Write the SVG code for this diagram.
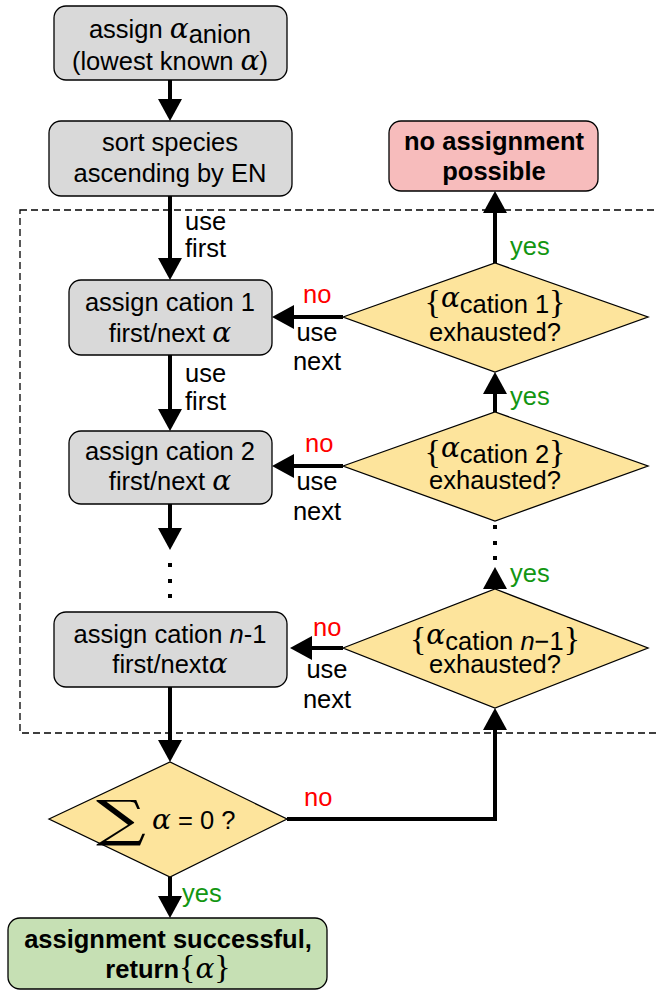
<svg xmlns="http://www.w3.org/2000/svg" width="656" height="991" viewBox="0 0 656 991">
<defs>
<marker id="ah" markerUnits="userSpaceOnUse" markerWidth="24" markerHeight="24" viewBox="0 0 22 24" refX="12" refY="12" orient="auto"><path d="M0,0 L22,12 L0,24 z" fill="#000"/></marker>
</defs>
<style>
text{font-family:"Liberation Sans",Arial,sans-serif;font-size:25.5px;fill:#000}
.c{text-anchor:middle}
.b{font-weight:bold}
.g{fill:#129612}
.r{fill:#ff0000}
.m{font-family:"DejaVu Serif","Liberation Serif",serif;font-style:italic;font-size:28px}
.br{font-family:"Liberation Serif","DejaVu Serif",serif;font-size:34px}
.box{fill:#d9d9d9;stroke:#000;stroke-width:1.3}
.dia{fill:#fde49c;stroke:#000;stroke-width:1.3}
.conn{fill:none;stroke:#000;stroke-width:4;marker-end:url(#ah)}
.dot{fill:#000}
</style>
<rect x="20" y="210" width="645" height="523" fill="none" stroke="#000" stroke-width="1.3" stroke-dasharray="7,4"/>
<g id="connectors">
<line class="conn" x1="170" y1="80" x2="170" y2="111"/>
<line class="conn" x1="170" y1="196" x2="170" y2="270"/>
<line class="conn" x1="170" y1="355" x2="170" y2="421"/>
<line class="conn" x1="170" y1="504" x2="170" y2="540"/>
<line class="conn" x1="170" y1="687" x2="170" y2="752"/>
<line class="conn" x1="170" y1="877" x2="170" y2="908"/>
<line class="conn" x1="495" y1="263" x2="495" y2="201"/>
<line class="conn" x1="495" y1="412" x2="495" y2="382"/>
<line class="conn" x1="495" y1="589" x2="495" y2="577"/>
<line class="conn" x1="343" y1="317" x2="282" y2="317"/>
<line class="conn" x1="343" y1="466" x2="282" y2="466"/>
<line class="conn" x1="343" y1="648" x2="300" y2="648"/>
<polyline class="conn" points="287,819 495,819 495,718"/>
<rect class="dot" x="168" y="563" width="4" height="4"/>
<rect class="dot" x="168" y="579" width="4" height="4"/>
<rect class="dot" x="168" y="594" width="4" height="4"/>
<rect class="dot" x="493" y="525" width="4" height="4"/>
<rect class="dot" x="493" y="541" width="4" height="4"/>
<rect class="dot" x="493" y="556" width="4" height="4"/>
<text x="185" y="230">use</text>
<text x="185" y="257">first</text>
<text x="185" y="382">use</text>
<text x="185" y="410">first</text>
<text class="r" x="303" y="303">no</text>
<text class="c" x="317" y="341">use</text>
<text class="c" x="317" y="370">next</text>
<text class="r" x="305" y="452">no</text>
<text class="c" x="317" y="490">use</text>
<text class="c" x="317" y="520">next</text>
<text class="r" x="313" y="636">no</text>
<text class="c" x="327" y="678">use</text>
<text class="c" x="327" y="708">next</text>
<text class="g" x="510" y="255">yes</text>
<text class="g" x="510" y="405">yes</text>
<text class="g" x="510" y="582">yes</text>
<text class="r" x="304" y="806">no</text>
<text class="g" x="182" y="902">yes</text>
</g>
<g id="anion">
<rect class="box" x="54" y="6" width="233" height="74" rx="12"/>
<text class="c" x="170" y="38">assign <tspan class="m">α</tspan><tspan dy="5">anion</tspan></text>
<text class="c" x="170" y="70">(lowest known <tspan class="m">α</tspan>)</text>
</g>
<g id="sort">
<rect class="box" x="49" y="121" width="243" height="75" rx="12"/>
<text class="c" x="170" y="151">sort species</text>
<text class="c" x="170" y="182">ascending by EN</text>
</g>
<g id="cation1">
<rect class="box" x="69" y="280" width="203" height="75" rx="12"/>
<text class="c" x="170" y="311">assign cation 1</text>
<text class="c" x="170" y="342">first/next <tspan class="m">α</tspan></text>
</g>
<g id="cation2">
<rect class="box" x="69" y="431" width="203" height="73" rx="12"/>
<text class="c" x="170" y="460">assign cation 2</text>
<text class="c" x="170" y="490">first/next <tspan class="m">α</tspan></text>
</g>
<g id="cationn1">
<rect class="box" x="54" y="612" width="233" height="75" rx="12"/>
<text class="c" x="170" y="643">assign cation <tspan font-style="italic">n</tspan>-1</text>
<text class="c" x="170" y="673">first/next<tspan class="m">α</tspan></text>
</g>
<g id="fail">
<rect x="389" y="121" width="209" height="70" rx="12" fill="#f7bcbc" stroke="#000" stroke-width="1.3"/>
<text class="c b" x="494" y="150">no assignment</text>
<text class="c b" x="494" y="180">possible</text>
</g>
<g id="ex1">
<polygon class="dia" points="343,317 495,263 648,317 495,372"/>
<text class="c" x="495" y="313"><tspan class="br">{</tspan><tspan class="m" dy="-6">α</tspan><tspan dy="6">cation 1</tspan><tspan class="br">}</tspan></text>
<text class="c" x="495" y="341">exhausted?</text>
</g>
<g id="ex2">
<polygon class="dia" points="343,466 495,412 648,466 495,521"/>
<text class="c" x="495" y="463"><tspan class="br">{</tspan><tspan class="m" dy="-6">α</tspan><tspan dy="6">cation 2</tspan><tspan class="br">}</tspan></text>
<text class="c" x="495" y="489">exhausted?</text>
</g>
<g id="exn1">
<polygon class="dia" points="343,648 495,589 648,648 495,708"/>
<text class="c" x="495" y="650"><tspan class="br">{</tspan><tspan class="m" dy="-6">α</tspan><tspan dy="6">cation </tspan><tspan font-style="italic">n</tspan><tspan>−1</tspan><tspan class="br">}</tspan></text>
<text class="c" x="495" y="673">exhausted?</text>
</g>
<g id="sum">
<polygon class="dia" points="49,819 170,762 287,819 170,877"/>
<text transform="translate(96,836) scale(1.4,1)" style="font-family:'DejaVu Serif','Liberation Serif',serif;font-size:50px">∑</text>
<text x="152" y="829"><tspan class="m">α</tspan> = 0 ?</text>
</g>
<g id="success">
<rect x="8" y="918" width="319" height="71" rx="12" fill="#c6e0b4" stroke="#000" stroke-width="1.3"/>
<text class="c b" x="168" y="948">assignment successful,</text>
<text class="c" x="168" y="978"><tspan class="b">return</tspan><tspan class="br">{</tspan><tspan class="m">α</tspan><tspan class="br">}</tspan></text>
</g>
</svg>
